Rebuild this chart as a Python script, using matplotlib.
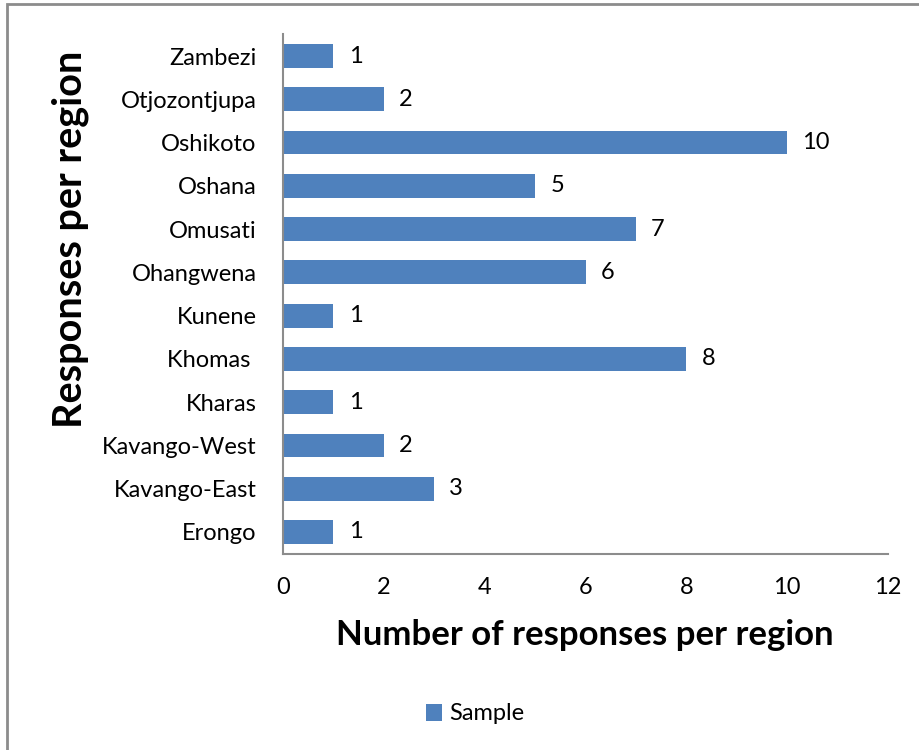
import matplotlib.pyplot as plt
from matplotlib.patches import Rectangle

regions = ['Erongo', 'Kavango-East', 'Kavango-West', 'Kharas', 'Khomas ', 'Kunene',
           'Ohangwena', 'Omusati', 'Oshana', 'Oshikoto', 'Otjozontjupa', 'Zambezi']
sample = [1, 3, 2, 1, 8, 1, 6, 7, 5, 10, 2, 1]
x_ticks = [0, 2, 4, 6, 8, 10, 12]

plt.rcParams['font.family'] = ['Lato', 'DejaVu Sans']

fig = plt.figure(figsize=(9.19, 7.5), dpi=100)
ax = fig.add_axes([283 / 919, 1 - 553.6 / 750, (888 - 283) / 919, (553.6 - 34.4) / 750])

# outer chart border (only left and top visible in the crop)
fig.patches.append(Rectangle((7 / 919, -0.1), 1.2, (1 - 4 / 750) + 0.1, transform=fig.transFigure,
                             fill=False, edgecolor='#8c8c8c', linewidth=2))

ypos = list(range(len(regions)))
ax.barh(ypos, sample, height=0.55, color='#4F81BD', label='Sample')
for y, v in zip(ypos, sample):
    ax.text(v + 0.3, y, str(v), va='center', ha='left', fontsize=17)

ax.set_xlim(0, 12)
ax.set_ylim(-0.5, len(regions) - 0.5)
ax.set_xticks(x_ticks)
ax.set_yticks(ypos)
ax.set_yticklabels(regions)
ax.tick_params(axis='both', length=0, labelsize=17)
ax.tick_params(axis='x', pad=17)
ax.tick_params(axis='y', pad=19)

for s in ['top', 'right']:
    ax.spines[s].set_visible(False)
ax.spines['left'].set_color('#8c8c8c')
ax.spines['bottom'].set_color('#8c8c8c')
ax.spines['left'].set_linewidth(1.5)
ax.spines['bottom'].set_linewidth(1.5)

fig.text(585 / 919, 1 - 635 / 750, 'Number of responses per region', fontsize=25,
         fontweight='bold', ha='center', va='center')
fig.text(70 / 919, 1 - 239 / 750, 'Responses per region', rotation=90, fontsize=28.5,
         fontweight='bold', ha='center', va='center')

fig.legend(loc='center', bbox_to_anchor=(475 / 919, 1 - 714 / 750), frameon=False,
           fontsize=17, handlelength=0.7, handleheight=0.7, handletextpad=0.3)

fig.savefig('out.png', dpi=100)
